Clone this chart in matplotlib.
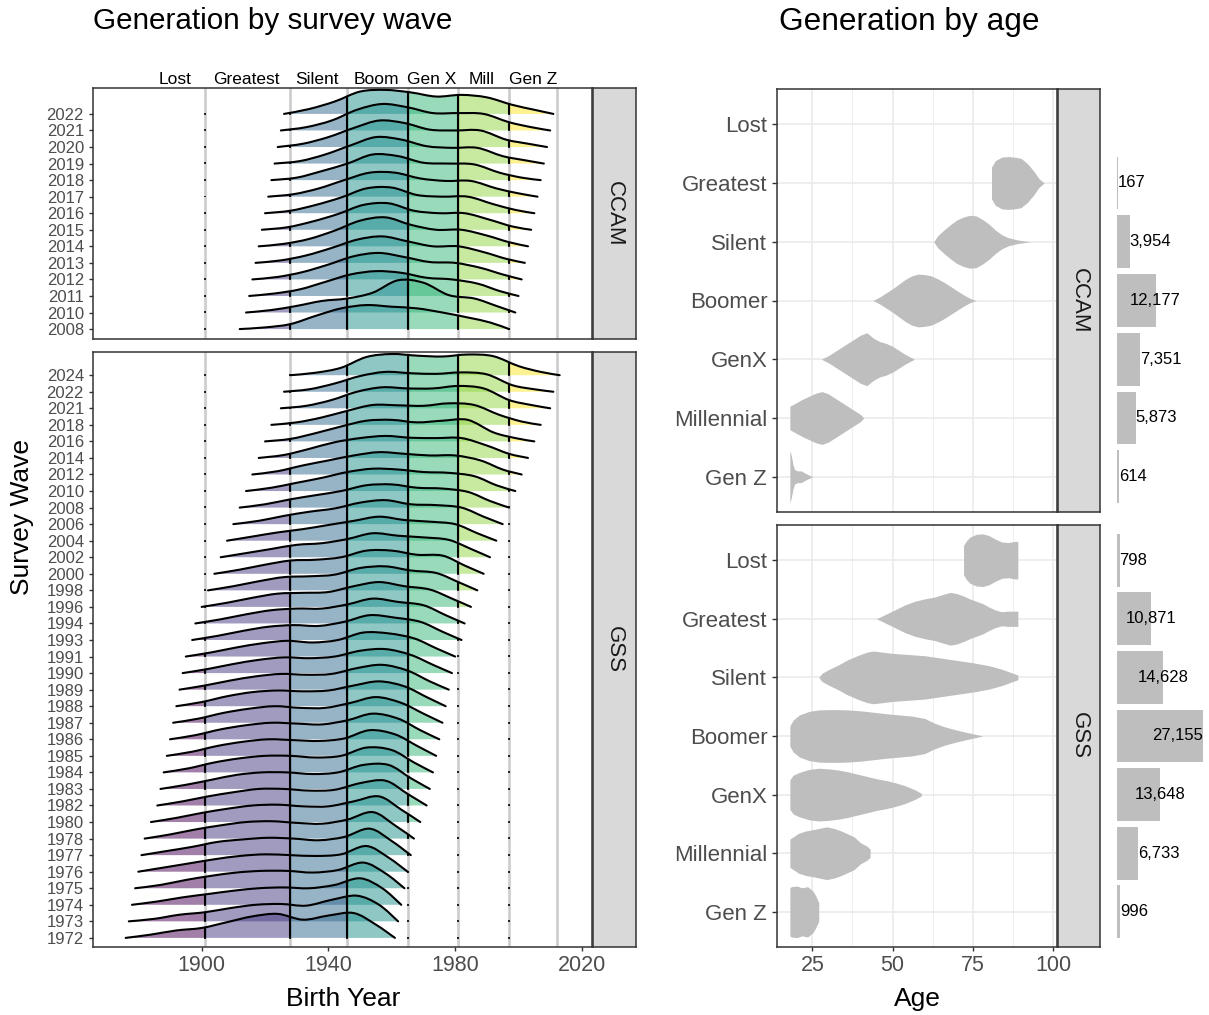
import numpy as np
import matplotlib
matplotlib.use("Agg")
import matplotlib.pyplot as plt
from matplotlib.path import Path
from matplotlib.patches import PathPatch
from matplotlib.transforms import blended_transform_factory

plt.rcParams['font.family'] = ['Liberation Sans', 'DejaVu Sans']

# ---------------- data ----------------
gen_names = ["Lost", "Greatest", "Silent", "Boom", "Gen X", "Mill", "Gen Z"]
gen_start = [1883, 1901, 1928, 1946, 1965, 1981, 1997]
gen_end = [1900, 1927, 1945, 1964, 1980, 1996, 2012]

ridge_ages = [96, 88, 80, 72, 64, 56, 48, 40, 32, 24, 17, 11]

ccam_waves = [2008, 2010, 2011, 2012, 2013, 2014, 2015, 2016, 2017, 2018, 2019, 2020, 2021, 2022]
ccam_heights = [
    [0, 0.10, 0.30, 0.80, 1.25, 1.45, 1.35, 1.25, 1.00, 0.70, 0.40, 0],
    [0, 0.15, 0.40, 0.70, 0.85, 1.20, 1.95, 1.80, 1.05, 0.85, 0.40, 0],
    [0, 0.15, 0.40, 0.85, 1.30, 1.50, 1.40, 1.10, 1.00, 0.75, 0.30, 0],
    [0, 0.15, 0.45, 0.90, 1.40, 1.60, 1.35, 1.05, 1.00, 0.70, 0.30, 0],
    [0, 0.15, 0.45, 0.90, 1.40, 1.60, 1.30, 1.00, 1.00, 0.65, 0.25, 0],
    [0, 0.15, 0.45, 0.95, 1.55, 1.75, 1.30, 1.00, 1.00, 0.65, 0.25, 0],
    [0, 0.15, 0.50, 0.95, 1.50, 1.60, 1.15, 1.00, 1.00, 0.60, 0.20, 0],
    [0, 0.15, 0.50, 0.95, 1.50, 1.55, 1.10, 1.00, 1.00, 0.55, 0.20, 0],
    [0, 0.15, 0.50, 1.00, 1.45, 1.45, 1.10, 0.95, 0.95, 0.50, 0.20, 0],
    [0, 0.15, 0.55, 1.00, 1.55, 1.45, 1.05, 1.00, 0.95, 0.45, 0.15, 0],
    [0, 0.15, 0.55, 1.10, 1.60, 1.45, 1.05, 0.95, 0.95, 0.45, 0.20, 0],
    [0, 0.20, 0.60, 1.15, 1.60, 1.45, 1.05, 1.00, 1.00, 0.45, 0.20, 0],
    [0, 0.20, 0.60, 1.25, 1.60, 1.40, 1.05, 1.05, 1.00, 0.50, 0.20, 0],
    [0, 0.30, 0.75, 1.35, 1.45, 1.30, 1.05, 1.15, 1.00, 0.55, 0.25, 0],
]

gss_waves = [1972, 1973, 1974, 1975, 1976, 1977, 1978, 1980, 1982, 1983, 1984, 1985,
             1986, 1987, 1988, 1989, 1990, 1991, 1993, 1994, 1996, 1998, 2000, 2002,
             2004, 2006, 2008, 2010, 2012, 2014, 2016, 2018, 2021, 2022, 2024]
gss_heights = [
    [0, 0.20, 0.45, 0.60, 0.95, 1.30, 1.45, 1.10, 1.35, 1.50, 0.80, 0],
    [0, 0.15, 0.40, 0.55, 0.80, 1.00, 1.05, 0.95, 1.30, 1.55, 1.00, 0],
    [0, 0.20, 0.45, 0.65, 0.85, 1.00, 1.05, 1.00, 1.20, 1.60, 1.00, 0],
    [0, 0.20, 0.50, 0.75, 0.95, 1.05, 1.05, 0.95, 1.10, 1.55, 0.90, 0],
    [0, 0.25, 0.50, 0.75, 0.95, 1.05, 1.00, 0.95, 1.05, 1.55, 0.85, 0],
    [0, 0.25, 0.50, 0.80, 0.95, 1.05, 1.00, 0.90, 1.10, 1.60, 0.85, 0],
    [0, 0.25, 0.55, 0.80, 1.00, 1.05, 0.95, 0.90, 1.15, 1.60, 0.80, 0],
    [0, 0.25, 0.55, 0.80, 1.00, 1.05, 0.95, 0.95, 1.25, 1.55, 0.75, 0],
    [0, 0.25, 0.55, 0.80, 1.00, 1.00, 0.90, 0.95, 1.35, 1.50, 0.70, 0],
    [0, 0.25, 0.55, 0.85, 1.00, 1.00, 0.90, 1.00, 1.45, 1.45, 0.65, 0],
    [0, 0.25, 0.60, 0.85, 1.00, 1.00, 0.90, 1.00, 1.50, 1.35, 0.60, 0],
    [0, 0.25, 0.60, 0.85, 1.00, 0.95, 0.90, 1.05, 1.55, 1.30, 0.60, 0],
    [0, 0.25, 0.60, 0.85, 1.00, 0.95, 0.90, 1.15, 1.55, 1.25, 0.55, 0],
    [0, 0.25, 0.60, 0.85, 1.00, 0.90, 0.90, 1.20, 1.55, 1.20, 0.55, 0],
    [0, 0.25, 0.60, 0.85, 0.95, 0.90, 0.95, 1.25, 1.50, 1.20, 0.55, 0],
    [0, 0.25, 0.55, 0.80, 0.95, 0.90, 0.95, 1.30, 1.50, 1.15, 0.50, 0],
    [0, 0.25, 0.55, 0.80, 0.95, 0.90, 1.00, 1.35, 1.45, 1.10, 0.50, 0],
    [0, 0.25, 0.55, 0.80, 0.95, 0.85, 1.00, 1.45, 1.40, 1.10, 0.50, 0],
    [0, 0.25, 0.55, 0.80, 0.90, 0.85, 1.10, 1.50, 1.35, 1.10, 0.50, 0],
    [0, 0.25, 0.55, 0.80, 0.90, 0.90, 1.15, 1.50, 1.30, 1.10, 0.50, 0],
    [0, 0.25, 0.55, 0.80, 0.85, 0.90, 1.25, 1.50, 1.25, 1.05, 0.50, 0],
    [0, 0.25, 0.55, 0.80, 0.85, 0.95, 1.35, 1.45, 1.20, 1.05, 0.50, 0],
    [0, 0.25, 0.55, 0.80, 0.85, 1.00, 1.40, 1.40, 1.15, 1.10, 0.50, 0],
    [0, 0.25, 0.50, 0.75, 0.85, 1.10, 1.45, 1.30, 1.20, 1.05, 0.50, 0],
    [0, 0.25, 0.50, 0.70, 0.95, 1.20, 1.45, 1.25, 1.15, 1.00, 0.45, 0],
    [0, 0.20, 0.50, 0.75, 0.95, 1.30, 1.45, 1.20, 1.15, 1.00, 0.45, 0],
    [0, 0.20, 0.50, 0.75, 1.00, 1.35, 1.40, 1.20, 1.15, 0.95, 0.40, 0],
    [0, 0.20, 0.50, 0.80, 1.15, 1.35, 1.30, 1.15, 1.10, 0.90, 0.35, 0],
    [0, 0.20, 0.55, 0.85, 1.15, 1.35, 1.25, 1.15, 1.15, 0.85, 0.30, 0],
    [0, 0.18, 0.55, 0.95, 1.20, 1.33, 1.22, 1.20, 1.20, 0.75, 0.25, 0],
    [0, 0.15, 0.50, 0.90, 1.25, 1.30, 1.15, 1.25, 1.30, 0.55, 0.20, 0],
    [0, 0.15, 0.45, 0.85, 1.20, 1.18, 1.15, 1.30, 1.20, 0.60, 0.20, 0],
    [0, 0.15, 0.50, 1.00, 1.27, 1.20, 1.20, 1.35, 1.20, 0.50, 0.20, 0],
    [0, 0.15, 0.50, 0.95, 1.20, 1.12, 1.08, 1.17, 1.05, 0.40, 0.15, 0],
    [0, 0.15, 0.45, 1.10, 1.28, 1.18, 1.13, 1.25, 1.15, 0.55, 0.20, 0],
]

# right side: generations (top to bottom) and respondent counts
age_gens = ["Lost", "Greatest", "Silent", "Boomer", "GenX", "Millennial", "Gen Z"]
ccam_counts = [None, 167, 3954, 12177, 7351, 5873, 614]
gss_counts = [798, 10871, 14628, 27155, 13648, 6733, 996]

# violin profiles (age, half-width in row units)
ccam_lost_age, ccam_lost_w = [], []
ccam_greatest_age = [80.8, 82, 84, 86, 88, 90, 92, 94, 95.5, 97.2]
ccam_greatest_w = [0.27, 0.38, 0.44, 0.45, 0.44, 0.42, 0.33, 0.20, 0.08, 0.0]
ccam_silent_age = [62.8, 64, 66, 68, 70, 72, 74, 76, 78, 80, 82, 84, 86, 89, 92.8]
ccam_silent_w = [0.0, 0.10, 0.20, 0.29, 0.37, 0.42, 0.45, 0.44, 0.38, 0.30, 0.20, 0.12, 0.07, 0.03, 0.0]
ccam_boomer_age = [43.9, 46, 48, 50, 52, 54, 56, 58, 60, 62, 64, 66, 68, 70, 72, 74, 75.9]
ccam_boomer_w = [0.0, 0.06, 0.13, 0.20, 0.28, 0.36, 0.42, 0.45, 0.44, 0.42, 0.37, 0.31, 0.24, 0.17, 0.10, 0.04, 0.0]
ccam_genx_age = [27.8, 30, 32, 34, 36, 38, 40, 42, 44, 46, 48, 50, 52, 54, 56.8]
ccam_genx_w = [0.0, 0.06, 0.13, 0.20, 0.27, 0.34, 0.41, 0.45, 0.36, 0.30, 0.27, 0.22, 0.15, 0.08, 0.0]
ccam_mill_age = [18, 20, 22, 24, 26, 28, 30, 32, 34, 36, 38, 40, 41]
ccam_mill_w = [0.20, 0.26, 0.32, 0.37, 0.42, 0.45, 0.41, 0.34, 0.27, 0.20, 0.13, 0.06, 0.0]
ccam_genz_age = [18, 18.5, 19, 19.5, 20.5, 21.5, 22.5, 23.5, 25.1]
ccam_genz_w = [0.45, 0.35, 0.20, 0.12, 0.10, 0.10, 0.07, 0.04, 0.0]

gss_lost_age = [72.1, 73, 74, 76, 78, 80, 82, 84, 86, 88, 89]
gss_lost_w = [0.25, 0.33, 0.39, 0.44, 0.45, 0.42, 0.36, 0.31, 0.30, 0.32, 0.32]
gss_greatest_age = [45, 48, 51, 54, 57, 60, 63, 66, 68, 70, 72, 74, 76, 78, 80, 82, 84, 86, 89]
gss_greatest_w = [0.0, 0.08, 0.16, 0.24, 0.30, 0.34, 0.37, 0.42, 0.45, 0.43, 0.39, 0.34, 0.30, 0.26, 0.20, 0.15, 0.12, 0.13, 0.13]
gss_silent_age = [27, 28, 30, 33, 36, 39, 42, 44, 47, 50, 55, 60, 65, 70, 75, 80, 84, 87, 89]
gss_silent_w = [0.0, 0.07, 0.13, 0.21, 0.30, 0.37, 0.43, 0.45, 0.43, 0.41, 0.39, 0.37, 0.33, 0.29, 0.25, 0.20, 0.14, 0.08, 0.04]
gss_boomer_age = [18, 19, 21, 24, 27, 30, 33, 36, 40, 44, 48, 52, 56, 60, 63, 66, 70, 74, 78.1]
gss_boomer_w = [0.17, 0.27, 0.36, 0.42, 0.445, 0.45, 0.45, 0.445, 0.43, 0.405, 0.38, 0.36, 0.34, 0.30, 0.22, 0.16, 0.10, 0.05, 0.0]
gss_genx_age = [18, 19, 21, 24, 27, 30, 33, 36, 39, 42, 45, 48, 51, 54, 57, 59]
gss_genx_w = [0.25, 0.33, 0.38, 0.43, 0.45, 0.44, 0.42, 0.39, 0.35, 0.31, 0.27, 0.24, 0.20, 0.15, 0.08, 0.02]
gss_mill_age = [18, 20.7, 23, 26, 29.5, 32, 34, 36, 38, 40, 42, 43]
gss_mill_w = [0.24, 0.34, 0.38, 0.41, 0.45, 0.42, 0.38, 0.33, 0.28, 0.18, 0.12, 0.07]
gss_genz_age = [18, 18.5, 20.2, 21.8, 23.5, 25.1, 26, 27]
gss_genz_w = [0.41, 0.43, 0.44, 0.41, 0.43, 0.36, 0.28, 0.16]

# ---------------- figure ----------------
W, H = 1209, 1015
fig = plt.figure(figsize=(W / 100, H / 100), dpi=100)


def add_ax(x0, y0, x1, y1):
    return fig.add_axes([x0 / W, 1 - y1 / H, (x1 - x0) / W, (y1 - y0) / H])


viridis = plt.get_cmap('viridis')
gen_colors = [viridis(v) for v in np.linspace(0, 1, 7)]
cuts = gen_start[1:]
grey_lines = gen_start[1:] + [gen_end[-1]]
DARK = '#333333'
TICKLAB = '#4D4D4D'


def smooth_path(xs, ys, closed):
    P = np.column_stack([xs, ys])
    n = len(P)
    verts = [P[0]]
    codes = [Path.MOVETO]
    for i in range(n - 1):
        p0 = P[max(i - 1, 0)]
        p1 = P[i]
        p2 = P[i + 1]
        p3 = P[min(i + 2, n - 1)]
        c1 = p1 + (p2 - p0) / 6.0
        c2 = p2 - (p3 - p1) / 6.0
        verts += [c1, c2, p2]
        codes += [Path.CURVE4] * 3
    if closed:
        verts.append(P[0])
        codes.append(Path.CLOSEPOLY)
    return Path(np.array(verts), codes)


def style_frame(ax):
    for s in ax.spines.values():
        s.set_color(DARK)
        s.set_linewidth(1.1)


def draw_ridges(ax, waves, heights, ylim, show_x):
    ax.set_xlim(1865.7, 2023.2)
    ax.set_ylim(*ylim)
    for xv in grey_lines:
        ax.axvline(xv, color='#CCCCCC', lw=1.9, zorder=1)
    n = len(waves)
    for i in range(n - 1, -1, -1):
        base = i + 1
        xs = waves[i] - np.array(ridge_ages, float)
        ys = base + np.array(heights[i], float)
        closed = smooth_path(xs, ys, True)
        for g in range(7):
            lo = cuts[g - 1] if g > 0 else xs[0] - 20
            hi = cuts[g] if g < 6 else xs[-1] + 20
            clip_path = Path([(lo, base - 0.5), (hi, base - 0.5), (hi, base + 3.5),
                              (lo, base + 3.5), (lo, base - 0.5)], closed=True)
            clip_patch = PathPatch(clip_path, transform=ax.transData)
            patch = PathPatch(closed, facecolor=gen_colors[g], alpha=0.5, lw=0, zorder=2)
            ax.add_patch(patch)
            patch.set_clip_path(clip_patch)
        clip = PathPatch(closed, transform=ax.transData)
        for c in cuts:
            ln, = ax.plot([c, c], [base, base + 3], color='black', lw=1.5, zorder=3,
                          solid_capstyle='butt')
            ln.set_clip_path(clip)
            ax.plot([c, c], [base - 0.05, base + 0.07], color='black', lw=1.2, zorder=3,
                    solid_capstyle='butt')
        ax.add_patch(PathPatch(smooth_path(xs, ys, False), fill=False, edgecolor='black',
                               lw=1.5, zorder=4, capstyle='round'))
    ax.set_yticks(range(1, n + 1))
    ax.set_yticklabels([str(w) for w in waves])
    ax.tick_params(axis='y', labelsize=12, labelcolor=TICKLAB, color=DARK, length=3, width=1.0, pad=3.5)
    if show_x:
        ax.set_xticks([1900, 1940, 1980, 2020])
        ax.tick_params(axis='x', labelsize=15.5, labelcolor=TICKLAB, color=DARK, length=3, width=1.0, pad=3)
    else:
        ax.set_xticks([])
    style_frame(ax)


def draw_strip(x0, y0, x1, y1, label):
    s = add_ax(x0, y0, x1, y1)
    s.set_facecolor('#D9D9D9')
    s.set_xticks([])
    s.set_yticks([])
    style_frame(s)
    s.text(0.5, 0.5, label, rotation=-90, ha='center', va='center', fontsize=16,
           color='#1A1A1A', transform=s.transAxes)


# ---- left plot ----
ax_c = add_ax(93, 88, 592, 339)
ax_g = add_ax(93, 352, 592, 947)
draw_ridges(ax_c, ccam_waves, ccam_heights, (0.4, 0.4 + 251 / 16.55), False)
draw_ridges(ax_g, gss_waves, gss_heights, (0.45, 0.45 + 595 / 16.55), True)
draw_strip(593, 88, 636, 339, 'CCAM')
draw_strip(593, 352, 636, 947, 'GSS')

trans_top = blended_transform_factory(ax_c.transData, ax_c.transAxes)
for name, s0, s1 in zip(gen_names, gen_start, gen_end):
    ax_c.text((s0 + s1) / 2, 1 + 8 / 251, name, ha='center', va='center', fontsize=12.5,
              color='black', transform=trans_top, clip_on=False)

# ---- right plot ----
violins = {
    'CCAM': [(ccam_lost_age, ccam_lost_w), (ccam_greatest_age, ccam_greatest_w),
             (ccam_silent_age, ccam_silent_w), (ccam_boomer_age, ccam_boomer_w),
             (ccam_genx_age, ccam_genx_w), (ccam_mill_age, ccam_mill_w),
             (ccam_genz_age, ccam_genz_w)],
    'GSS': [(gss_lost_age, gss_lost_w), (gss_greatest_age, gss_greatest_w),
            (gss_silent_age, gss_silent_w), (gss_boomer_age, gss_boomer_w),
            (gss_genx_age, gss_genx_w), (gss_mill_age, gss_mill_w),
            (gss_genz_age, gss_genz_w)],
}


def draw_violins(ax, profs, show_x):
    ax.set_xlim(14.0, 101.2)
    ax.set_ylim(0.4, 7.6)
    ax.set_xticks([25, 50, 75, 100])
    ax.set_xticks([37.5, 62.5, 87.5], minor=True)
    ypos = [7 - k for k in range(7)]
    ax.set_yticks(ypos)
    ax.set_yticklabels(age_gens)
    ax.grid(True, which='major', color='#EBEBEB', lw=1.2)
    ax.grid(True, which='minor', axis='x', color='#EBEBEB', lw=0.6)
    ax.set_axisbelow(True)
    for (ages, w), y in zip(profs, ypos):
        if len(ages) == 0:
            continue
        a = np.array(ages, float)
        hw = np.array(w, float)
        ax.fill_between(a, y - hw, y + hw, color='#BEBEBE', lw=0, zorder=2)
    ax.tick_params(axis='y', labelsize=16, labelcolor=TICKLAB, color=DARK, length=3.5, width=1.0, pad=3.5)
    ax.tick_params(axis='x', which='minor', length=0)
    if show_x:
        ax.tick_params(axis='x', which='major', labelsize=15.5, labelcolor=TICKLAB, color=DARK,
                       length=3, width=1.0, pad=3)
    else:
        ax.tick_params(axis='x', which='major', labelbottom=False, length=0)
    style_frame(ax)


def draw_bars(ax, counts):
    ax.set_xlim(0, 28100)
    ax.set_ylim(0.4, 7.6)
    ax.axis('off')
    ypos = [7 - k for k in range(7)]
    for c, y in zip(counts, ypos):
        if c is None:
            continue
        ax.barh(y, c, height=0.9, color='#BEBEBE', lw=0)
        hj = 0 if c < 10000 else (0.5 if c < 20000 else 1)
        ha = {0: 'left', 0.5: 'center', 1: 'right'}[hj]
        ax.text(c, y, f"{c:,}", ha=ha, va='center', fontsize=12, color='black')


ax_rc = add_ax(777, 89, 1057, 512)
ax_rg = add_ax(777, 525, 1057, 947)
draw_violins(ax_rc, violins['CCAM'], False)
draw_violins(ax_rg, violins['GSS'], True)
draw_strip(1058, 89, 1100, 512, 'CCAM')
draw_strip(1058, 525, 1100, 947, 'GSS')
bar_c = add_ax(1117, 89, 1206, 512)
bar_g = add_ax(1117, 525, 1206, 947)
draw_bars(bar_c, ccam_counts)
draw_bars(bar_g, gss_counts)

# ---- titles and axis titles ----
fig.text(93 / W, 1 - 29 / H, "Generation by survey wave", fontsize=21.3, ha='left', va='baseline')
fig.text(779 / W, 1 - 30 / H, "Generation by age", fontsize=22.8, ha='left', va='baseline')
fig.text(22 / W, 1 - 517 / H, "Survey Wave", fontsize=19, rotation=90, ha='center', va='center')
fig.text(343 / W, 1 - 1006 / H, "Birth Year", fontsize=19, ha='center', va='baseline')
fig.text(917 / W, 1 - 1006 / H, "Age", fontsize=19, ha='center', va='baseline')

fig.savefig("out.png", dpi=100)
